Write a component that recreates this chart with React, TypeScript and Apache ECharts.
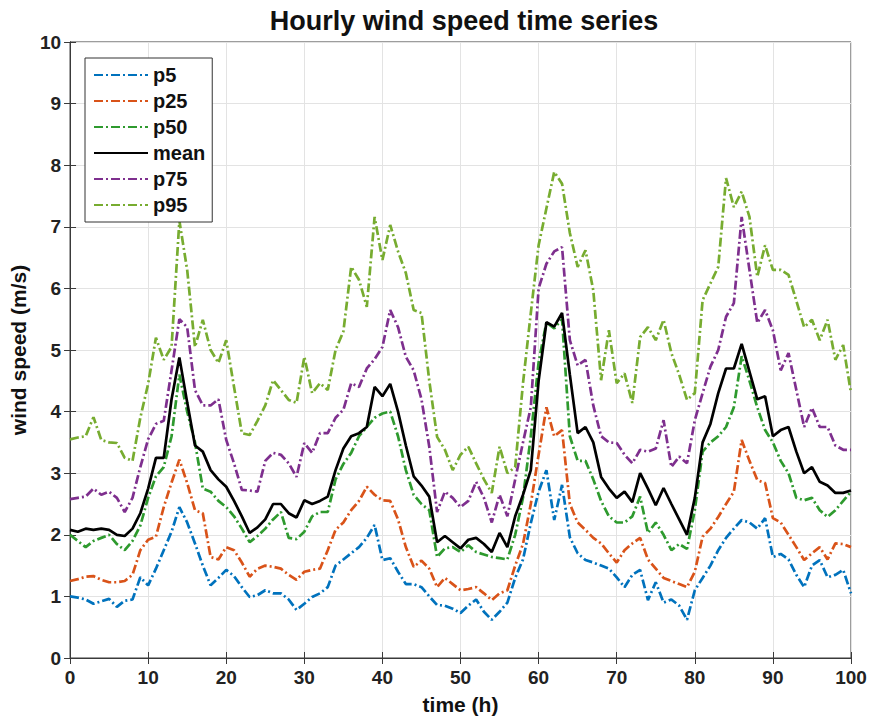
import React, { useEffect, useRef } from "react";
import * as echarts from "echarts";

const hours: number[] = Array.from({ length: 101 }, (_, i) => i);

const p5 = [1.0,0.98,0.95,0.88,0.92,0.96,0.83,0.93,0.95,1.31,1.18,1.45,1.75,2.05,2.45,2.2,1.86,1.5,1.18,1.3,1.43,1.33,1.15,0.99,1.02,1.1,1.05,1.05,0.95,0.78,0.88,0.99,1.05,1.15,1.5,1.6,1.7,1.8,1.95,2.16,1.59,1.62,1.4,1.2,1.2,1.15,1.0,0.86,0.85,0.8,0.73,0.85,0.95,0.75,0.62,0.75,0.9,1.3,1.6,2.19,2.7,3.05,2.24,2.81,1.96,1.7,1.59,1.55,1.5,1.45,1.31,1.15,1.35,1.43,0.94,1.23,0.9,0.95,0.85,0.62,1.1,1.3,1.5,1.75,1.95,2.1,2.24,2.2,2.1,2.27,1.64,1.69,1.6,1.35,1.15,1.5,1.59,1.31,1.35,1.43,1.05];

const p25 = [1.25,1.28,1.32,1.33,1.27,1.23,1.23,1.25,1.35,1.75,1.92,1.97,2.45,2.85,3.22,2.84,2.4,2.35,1.64,1.6,1.8,1.75,1.55,1.32,1.45,1.5,1.48,1.45,1.35,1.27,1.4,1.43,1.45,1.75,2.08,2.2,2.4,2.55,2.78,2.65,2.56,2.55,2.25,1.8,1.48,1.58,1.45,1.15,1.3,1.2,1.1,1.12,1.15,1.05,0.94,1.05,1.1,1.5,1.85,2.5,3.3,4.07,3.6,3.7,2.5,2.2,2.08,1.95,1.86,1.7,1.55,1.75,1.86,1.95,1.6,1.45,1.3,1.25,1.2,1.15,1.4,1.97,2.1,2.29,2.5,2.7,3.54,3.2,2.89,2.84,2.27,2.2,2.0,1.8,1.59,1.7,1.8,1.6,1.86,1.85,1.8];

const p50 = [2.0,1.9,1.8,1.9,1.95,2.0,1.85,1.75,1.9,2.15,2.6,2.95,3.1,3.6,4.6,4.0,3.5,2.75,2.7,2.55,2.45,2.3,2.1,1.88,1.98,2.1,2.25,2.37,1.95,1.93,2.05,2.3,2.37,2.37,2.9,3.15,3.33,3.6,3.75,3.9,3.97,4.0,3.6,3.05,2.65,2.5,2.4,1.64,1.78,1.8,1.72,1.83,1.72,1.68,1.64,1.62,1.6,2.0,2.6,3.6,4.8,5.45,5.35,5.5,3.6,3.2,3.2,2.9,2.55,2.3,2.2,2.2,2.3,2.62,2.03,2.2,2.0,1.75,1.85,1.77,2.4,3.35,3.5,3.6,3.75,4.07,4.9,4.5,4.07,3.7,3.5,3.2,3.0,2.6,2.56,2.6,2.4,2.29,2.4,2.55,2.7];

const meanV = [2.08,2.05,2.1,2.08,2.1,2.08,2.0,1.98,2.1,2.35,2.75,3.25,3.25,4.2,4.88,4.15,3.45,3.35,3.05,2.9,2.78,2.55,2.3,2.03,2.12,2.25,2.5,2.5,2.35,2.28,2.56,2.5,2.55,2.62,3.05,3.4,3.6,3.65,3.75,4.4,4.25,4.45,4.0,3.45,2.95,2.8,2.62,1.88,1.98,1.88,1.78,1.92,1.95,1.85,1.72,2.03,1.8,2.3,2.65,3.05,4.5,5.45,5.38,5.6,4.6,3.65,3.75,3.5,2.94,2.75,2.6,2.7,2.53,3.0,2.75,2.48,2.76,2.5,2.25,2.0,2.6,3.5,3.8,4.3,4.7,4.7,5.1,4.65,4.2,4.25,3.6,3.7,3.75,3.35,3.0,3.1,2.86,2.8,2.68,2.68,2.72];

const p75 = [2.58,2.6,2.62,2.75,2.65,2.7,2.6,2.37,2.6,3.1,3.55,3.8,3.85,4.67,5.5,5.37,4.35,4.1,4.1,4.2,3.54,3.16,2.73,2.72,2.7,3.2,3.33,3.3,3.16,2.94,3.49,3.33,3.65,3.65,3.9,4.03,4.46,4.4,4.7,4.85,5.05,5.65,5.37,4.89,4.67,4.2,3.43,2.37,2.7,2.6,2.45,2.55,2.86,2.6,2.2,2.65,2.3,2.9,3.5,4.07,6.0,6.4,6.6,6.67,5.16,4.75,4.84,4.1,3.6,3.5,3.49,3.3,3.16,3.38,3.35,3.4,3.86,3.1,3.27,3.16,3.86,4.3,4.73,5.0,5.54,5.76,7.16,6.3,5.44,5.65,5.32,4.67,4.95,4.35,3.75,4.06,3.75,3.75,3.45,3.38,3.38];

const p95 = [3.55,3.58,3.6,3.91,3.54,3.5,3.49,3.25,3.2,3.9,4.45,5.2,4.84,5.05,7.1,6.3,5.05,5.49,5.0,4.79,5.16,4.4,3.65,3.62,3.85,4.1,4.51,4.35,4.19,4.14,4.89,4.3,4.46,4.35,5.0,5.3,6.35,6.14,5.7,7.16,6.46,7.03,6.6,6.25,5.65,5.6,4.5,3.59,3.38,3.05,3.3,3.43,3.16,2.9,2.68,3.43,3.0,3.1,4.46,5.6,6.7,7.3,7.89,7.7,6.9,6.35,6.62,5.97,4.51,5.32,4.46,4.62,4.14,5.21,5.37,5.16,5.49,4.95,4.6,4.19,4.3,5.81,6.08,6.35,7.79,7.32,7.57,7.16,6.19,6.7,6.3,6.3,6.22,5.8,5.37,5.49,5.16,5.49,4.84,5.08,4.3];

const seriesNames = ["p5", "p25", "p50", "mean", "p75", "p95"];
const seriesValues = [p5, p25, p50, meanV, p75, p95];
const seriesColors = ["#0072BD", "#D95319", "#2E9A2E", "#000000", "#7E2F8E", "#77AC30"];

const FONT = "'Liberation Sans', Arial, Helvetica, sans-serif";
const DASHDOT = [9, 3, 2, 3];
const AXIS_COLOR = "#3a3a3a";

export default function App() {
  const ref = useRef<HTMLDivElement>(null);
  useEffect(() => {
    if (!ref.current) return;
    const chart = echarts.init(ref.current, undefined, { renderer: "svg" });
    const series = seriesNames.map((name, i) => ({
      name,
      type: "line",
      xAxisIndex: 0,
      yAxisIndex: 0,
      data: hours.map((h, j) => [h, seriesValues[i][j]]),
      symbol: "none",
      showSymbol: false,
      z: name === "mean" ? 5 : 3,
      lineStyle: {
        color: seriesColors[i],
        width: 2.7,
        type: name === "mean" ? "solid" : DASHDOT,
      },
      itemStyle: { color: seriesColors[i] },
    }));
    const gridLine = { show: true, lineStyle: { color: "#e3e3e3", width: 1 } };
    const axisLabelStyle = { color: "#222", fontSize: 19, fontWeight: "bold", fontFamily: FONT };
    const nameStyle = { fontSize: 21, fontWeight: "bold", color: "#111", fontFamily: FONT };
    const tick = { show: true, inside: true, length: 6, lineStyle: { color: AXIS_COLOR } };
    chart.setOption({
      animation: false,
      backgroundColor: "#ffffff",
      title: {
        text: "Hourly wind speed time series",
        left: 459,
        textAlign: "center",
        top: 2,
        textStyle: { fontSize: 27, fontWeight: "bold", color: "#111", fontFamily: FONT },
      },
      grid: {
        left: 67,
        right: 21,
        top: 42,
        bottom: 66,
        show: true,
        borderColor: AXIS_COLOR,
        borderWidth: 1,
        backgroundColor: "transparent",
      },
      legend: {
        orient: "vertical",
        left: 85,
        top: 58,
        data: seriesNames,
        itemWidth: 54,
        itemHeight: 20,
        itemGap: 6,
        backgroundColor: "#fff",
        borderColor: "#333",
        borderWidth: 1,
        borderRadius: 0,
        padding: [7, 7, 7, 8],
        itemStyle: { opacity: 0 },
        textStyle: { fontSize: 20, fontWeight: "bold", color: "#111", fontFamily: FONT, lineHeight: 20 },
      },
      xAxis: [
        {
          type: "value",
          min: 0,
          max: 100,
          interval: 10,
          name: "time (h)",
          nameLocation: "middle",
          nameGap: 36,
          nameTextStyle: nameStyle,
          axisLine: { show: true, onZero: false, lineStyle: { color: AXIS_COLOR } },
          axisTick: tick,
          axisLabel: { ...axisLabelStyle, margin: 10 },
          splitLine: gridLine,
        },
        {
          type: "value",
          position: "top",
          min: 0,
          max: 100,
          interval: 10,
          axisLine: { show: true, lineStyle: { color: AXIS_COLOR } },
          axisTick: tick,
          axisLabel: { show: false },
          splitLine: { show: false },
        },
      ],
      yAxis: [
        {
          type: "value",
          min: 0,
          max: 10,
          interval: 1,
          name: "wind speed (m/s)",
          nameLocation: "middle",
          nameGap: 35,
          nameTextStyle: nameStyle,
          axisLine: { show: true, onZero: false, lineStyle: { color: AXIS_COLOR } },
          axisTick: tick,
          axisLabel: { ...axisLabelStyle, margin: 9 },
          splitLine: gridLine,
        },
        {
          type: "value",
          position: "right",
          min: 0,
          max: 10,
          interval: 1,
          axisLine: { show: true, lineStyle: { color: AXIS_COLOR } },
          axisTick: tick,
          axisLabel: { show: false },
          splitLine: { show: false },
        },
      ],
      series,
    });
    return () => chart.dispose();
  }, []);
  return (
    <div
      ref={ref}
      style={{ position: "fixed", left: 0, top: 0, width: 872, height: 724, background: "#fff" }}
    />
  );
}
